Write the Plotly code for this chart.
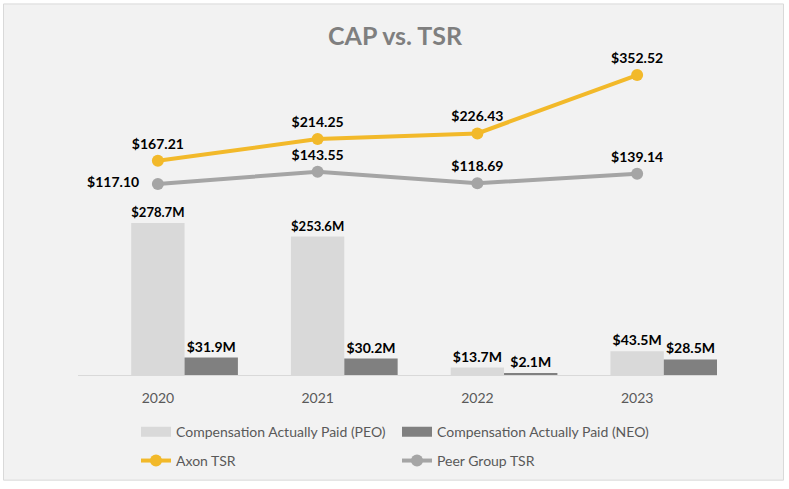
import plotly.graph_objects as go

years = ["2020", "2021", "2022", "2023"]
cap_peo = [278.7, 253.6, 13.7, 43.5]
cap_neo = [31.9, 30.2, 2.1, 28.5]
axon_tsr = [167.21, 214.25, 226.43, 352.52]
peer_tsr = [117.10, 143.55, 118.69, 139.14]

peo_labels = [f"${v:.1f}M" for v in cap_peo]
neo_labels = [f"${v:.1f}M" for v in cap_neo]
axon_labels = [f"${v:.2f}" for v in axon_tsr]
peer_labels = [f"${v:.2f}" for v in peer_tsr]
peer_labels[0] = peer_labels[0] + "\u00a0\u00a0\u00a0"

PEO_C, NEO_C = "#d9d9d9", "#808080"
AXON_C, PEER_C = "#f2b92a", "#a5a5a5"

FONT = "Lato"
lab_font = dict(family=FONT, size=14, color="#000000", weight="bold")

fig = go.Figure()
fig.add_trace(go.Bar(
    x=years, y=cap_peo, name="Compensation Actually Paid (PEO)",
    marker=dict(color=PEO_C, line=dict(width=0)),
    width=0.334, offset=-0.167, showlegend=False,
    text=peo_labels, textposition="outside", textfont=lab_font,
    cliponaxis=False, yaxis="y",
))
fig.add_trace(go.Bar(
    x=years, y=cap_neo, name="Compensation Actually Paid (NEO)",
    marker=dict(color=NEO_C, line=dict(width=0)),
    width=0.334, offset=0.167, showlegend=False,
    text=neo_labels, textposition="outside", textfont=lab_font,
    cliponaxis=False, yaxis="y",
))
fig.add_trace(go.Scatter(
    x=years, y=axon_tsr, name="Axon TSR", mode="lines+markers+text",
    line=dict(color=AXON_C, width=4), marker=dict(size=12, color=AXON_C),
    text=axon_labels, textposition="top center", textfont=lab_font,
    cliponaxis=False, yaxis="y2", legend="legend2",
))
fig.add_trace(go.Scatter(
    x=years, y=peer_tsr, name="Peer Group TSR", mode="lines+markers+text",
    line=dict(color=PEER_C, width=4), marker=dict(size=12, color=PEER_C),
    text=peer_labels,
    textposition=["middle left", "top center", "top center", "top center"],
    textfont=lab_font, cliponaxis=False, yaxis="y2", legend="legend2",
))
# legend-only swatches for the bar series (wide rectangles as in the original)
fig.add_trace(go.Scatter(
    x=[None], y=[None], mode="lines", name="Compensation Actually Paid (PEO)",
    line=dict(color=PEO_C, width=10), legend="legend",
))
fig.add_trace(go.Scatter(
    x=[None], y=[None], mode="lines", name="Compensation Actually Paid (NEO)",
    line=dict(color=NEO_C, width=10), legend="legend",
))

L, R, T, B = 78, 717, 60, 377.5
W, H = 789, 489
pw, ph = R - L, B - T

def px_x(x):
    return (x - L) / pw

def px_y(y):
    return (B - y) / ph

fig.add_shape(type="rect", xref="paper", yref="paper",
              x0=px_x(3.5), x1=px_x(783.5), y0=px_y(483.5), y1=px_y(3.5),
              line=dict(color="#d9d9d9", width=1), fillcolor="#f2f2f2",
              layer="below")

fig.add_annotation(text="<b>CAP vs. TSR</b>", xref="paper", yref="paper",
                   x=px_x(395), y=px_y(35), xanchor="center", yanchor="middle",
                   showarrow=False,
                   font=dict(family=FONT, size=25, color="#7f7f7f"))

leg_common = dict(orientation="h", xanchor="left", yanchor="top",
                  entrywidth=216, bgcolor="rgba(0,0,0,0)",
                  font=dict(family=FONT, size=14, color="#595959"))

fig.update_layout(
    width=W, height=H,
    margin=dict(l=L, r=W - R, t=T, b=H - B, pad=0),
    paper_bgcolor="#ffffff", plot_bgcolor="rgba(0,0,0,0)",
    barmode="overlay",
    showlegend=True,
    font=dict(family=FONT, color="#595959"),
    xaxis=dict(type="category", range=[-0.5, 3.5], showline=True,
               linecolor="#d9d9d9", linewidth=1, ticks="", showgrid=False,
               tickfont=dict(family=FONT, size=14, color="#595959"),
               ticklabelstandoff=10, zeroline=False),
    yaxis=dict(range=[0, ph / 0.55], visible=False, showgrid=False),
    yaxis2=dict(range=[-(B - 239.5) / 0.466, (239.5 - T) / 0.466],
                overlaying="y", visible=False, showgrid=False),
    legend=dict(x=px_x(136), y=px_y(419), **leg_common),
    legend2=dict(x=px_x(136), y=px_y(448), **leg_common),
)

fig.write_html("out.html", config={"displayModeBar": False},
               post_script="document.body.style.margin='0px';")
